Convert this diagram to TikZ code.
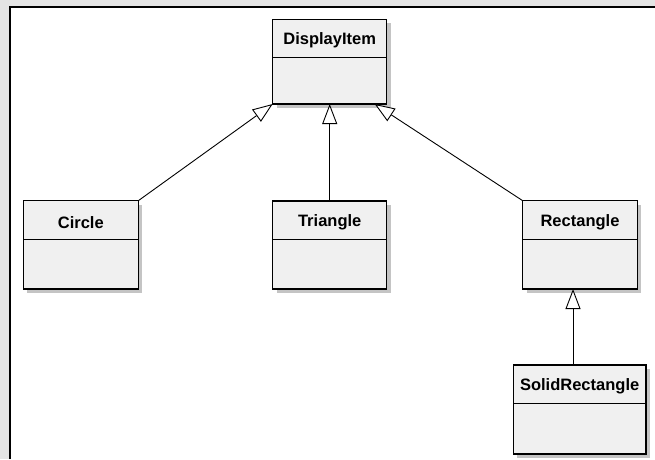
\documentclass[tikz,border=0pt]{standalone}
\usepackage{fontspec}
\setmainfont{Liberation Sans}
\usetikzlibrary{arrows.meta,shadows,calc}
\definecolor{boxfill}{HTML}{F0F0F0}
\definecolor{shadowgray}{HTML}{C4C4C4}
\definecolor{outergray}{HTML}{E4E4E4}
\tikzset{
  cls/.style={draw=black, fill=boxfill, line width=1.1pt, inner sep=0pt, outer sep=0pt,
    general shadow={fill=shadowgray, shadow xshift=4pt, shadow yshift=-4pt}},
  lbl/.style={font=\bfseries\fontsize{16.5}{19}\selectfont, inner sep=0pt},
  divider/.style={line width=1.1pt},
  inherit/.style={line width=0.9pt, -{Triangle[length=20pt, width=15pt, fill=white, line width=0.9pt]}}
}
\begin{document}
\begin{tikzpicture}[x=1pt, y=-1pt]
\useasboundingbox (0,0) rectangle (655,459);
\fill[outergray] (0,0) rectangle (655,459);
\fill[white] (10,7) rectangle (655,459);
\draw[line width=2.5pt] (10.2,459) -- (10.2,7.2) -- (655,7.2);
\node[cls, minimum width=114pt, minimum height=84.7pt] (disp) at (329.7,61.65) {};
\node[cls, minimum width=115pt, minimum height=88.3pt] (circ) at (80.8,244.85) {};
\node[cls, minimum width=114pt, minimum height=88pt] (tri) at (329.7,245) {};
\node[cls, minimum width=114.6pt, minimum height=88.3pt] (rect) at (580,244.85) {};
\node[cls, minimum width=132.7pt, minimum height=89pt] (solid) at (579.65,409.5) {};
\draw[divider] (disp.west |- 0,57.7) -- (disp.east |- 0,57.7);
\draw[divider] (circ.west |- 0,239.3) -- (circ.east |- 0,239.3);
\draw[divider] (tri.west |- 0,239.3) -- (tri.east |- 0,239.3);
\draw[divider] (rect.west |- 0,239.3) -- (rect.east |- 0,239.3);
\draw[divider] (solid.west |- 0,403.3) -- (solid.east |- 0,403.3);
\node[lbl] (dispL) at (329.7,40.5) {DisplayItem};
\node[lbl] (circL) at (80.8,222.5) {Circle};
\node[lbl] (triL) at (329.7,222.5) {Triangle};
\node[lbl] (rectL) at (580,222.5) {Rectangle};
\node[lbl] (solidL) at (579.65,386.5) {SolidRectangle};
\coordinate (dR) at ($(disp.south east)+(-12,0)$);
\coordinate (rB) at ($(rect.south)+(-7,0)$);
\coordinate (sT) at ($(solid.north)+(-6.65,0)$);
\draw[inherit] (circ.north east) -- (disp.south west);
\draw[inherit] (tri.north) -- (disp.south);
\draw[inherit] (rect.north west) -- (dR);
\draw[inherit] (sT) -- (rB);
\end{tikzpicture}
\end{document}
